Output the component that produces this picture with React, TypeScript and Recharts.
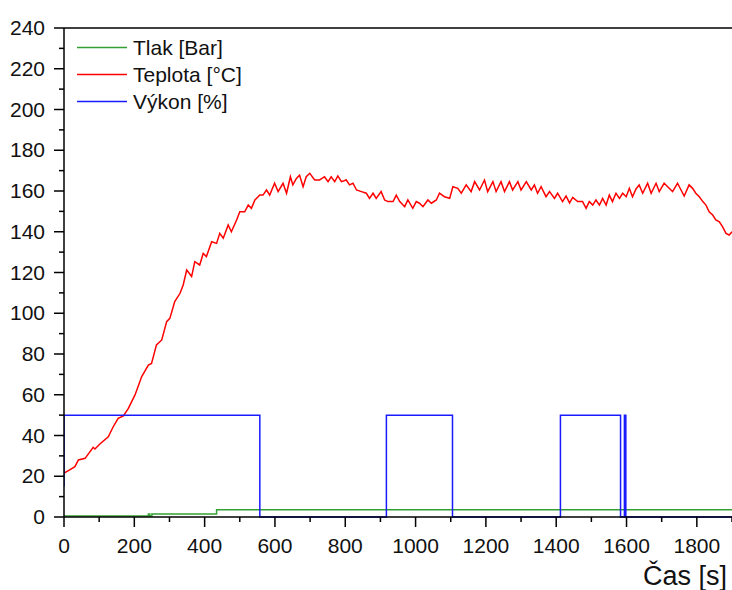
import { Legend, Line, LineChart, ReferenceLine, XAxis, YAxis } from 'recharts'

const timeTicks = [0, 100, 200, 300, 400, 500, 600, 700, 800, 900, 1000, 1100, 1200, 1300, 1400, 1500, 1600, 1700, 1800, 1900]
const valueTicks = [0, 10, 20, 30, 40, 50, 60, 70, 80, 90, 100, 110, 120, 130, 140, 150, 160, 170, 180, 190, 200, 210, 220, 230, 240]
const seriesNames = ['Tlak [Bar]', 'Teplota [°C]', 'Výkon [%]']

// Tlak [Bar]
const pressureTime = [0, 240, 244, 250, 434, 1900]
const pressureValue = [0.5, 1.5, 0.5, 1.5, 3.5, 3.5]

// Výkon [%]
const powerTime = [0, 0, 557, 917, 1105, 1412, 1583, 1594, 1598, 1900]
const powerValue = [15, 50, 0, 50, 0, 50, 0, 50, 0, 0]

// Teplota [°C]
const tempTime = [
  0, 15, 31, 41, 60, 83, 88, 102, 126, 140, 154, 169, 183, 202, 221, 240, 249, 263, 278, 292,
  301, 315, 330, 339, 349, 363, 372, 386, 396, 405, 420, 434, 443, 453, 467, 476, 491, 500, 514, 524,
  533, 543, 557, 566, 576, 585, 599, 609, 623, 633, 644, 651, 661, 670, 680, 689, 699, 713, 727, 741,
  751, 760, 770, 779, 789, 803, 812, 822, 832, 846, 860, 869, 879, 888, 902, 912, 921, 936, 945, 955,
  969, 978, 992, 1002, 1011, 1021, 1035, 1045, 1059, 1068, 1082, 1097, 1106, 1120, 1130, 1144, 1158, 1168, 1182, 1196,
  1205, 1220, 1229, 1243, 1253, 1267, 1276, 1291, 1300, 1315, 1329, 1338, 1347, 1357, 1371, 1381, 1395, 1404, 1418, 1428,
  1438, 1447, 1461, 1475, 1485, 1494, 1504, 1513, 1523, 1532, 1542, 1551, 1560, 1570, 1580, 1589, 1599, 1608, 1617, 1627,
  1636, 1646, 1660, 1670, 1684, 1693, 1707, 1717, 1731, 1745, 1755, 1764, 1778, 1788, 1797, 1807, 1817, 1826, 1835, 1845,
  1854, 1864, 1873, 1883, 1892, 1900,
]
const tempValue = [
  21.5, 23, 24.7, 28, 28.8, 34.2, 33.4, 35.8, 39.4, 44.3, 48.4, 49.6, 53.3, 59.9, 68.9, 74.6, 75.4, 84.5, 86.9, 95.9,
  97.5, 105.7, 109.8, 113.9, 121.2, 118, 125.3, 123.7, 129.4, 127.8, 135.1, 134.3, 139.2, 136.8, 143.3, 140, 145.8, 149.8, 149.8, 153.1,
  151.5, 155.6, 158, 158, 160.5, 158, 163.8, 159.7, 163.8, 158.9, 167, 163, 166.2, 167.8, 162.1, 167, 168.7, 165.4, 165.4, 167,
  164.6, 167, 164.6, 167.4, 164.6, 165.4, 163, 163.8, 160.5, 159.7, 158.9, 156.4, 158.9, 156.4, 159.7, 155.6, 154.8, 154.8, 158, 154.8,
  152.3, 155.6, 151.5, 154.8, 154, 152.3, 155.6, 154, 155.6, 158.9, 157.2, 156.4, 162.1, 161.3, 158.9, 163, 159.7, 164.6, 160.5, 165.4,
  159.7, 164.6, 159.7, 164.6, 159.7, 164.6, 160.5, 164.6, 160.5, 164.6, 160.5, 163, 158.9, 162.1, 157.2, 159.7, 156.4, 158.9, 154.8, 157.5,
  154.2, 156.9, 154.8, 154.8, 151.5, 154.8, 153.1, 155.6, 153.1, 156.4, 153.1, 158, 154.8, 158.9, 156.4, 158.9, 157.2, 161.3, 157.2, 161,
  163, 158.9, 163.8, 158.9, 163.8, 159.7, 163.8, 162.1, 159.7, 163.8, 160.5, 157.5, 163, 161.3, 158.9, 157.2, 154.8, 153.1, 149.8, 148.2,
  145.8, 144.9, 142.5, 139.2, 138.4, 140,
]

const toPoints = (t: number[], v: number[]) => t.map((time, i) => ({ time, value: v[i] }))

const pressureData = toPoints(pressureTime, pressureValue)
const powerData = toPoints(powerTime, powerValue)
const tempData = toPoints(tempTime, tempValue)

const font = '"Liberation Sans", Arial, sans-serif'
const axisColor = '#000'

const YTick = (props: any) => {
  const { x, y, payload } = props
  const major = payload.value % 20 === 0
  return (
    <g>
      <line x1={x - (major ? 10 : 5)} x2={x} y1={y} y2={y} stroke={axisColor} strokeWidth={1.5} />
      {major && (
        <text x={x - 19} y={y} dy={7} textAnchor="end" fontSize={21} fontFamily={font} fill="#111">
          {payload.value}
        </text>
      )}
    </g>
  )
}

const XTick = (props: any) => {
  const { x, y, payload } = props
  const major = payload.value % 200 === 0
  return (
    <g>
      <line x1={x} x2={x} y1={y} y2={y + (major ? 10 : 5)} stroke={axisColor} strokeWidth={1.5} />
      {major && (
        <text x={x} y={y + 36} textAnchor="middle" fontSize={21} fontFamily={font} fill="#111">
          {payload.value}
        </text>
      )}
    </g>
  )
}

const renderLegend = (props: any) => {
  const items = [...props.payload].sort(
    (a: any, b: any) => seriesNames.indexOf(a.value) - seriesNames.indexOf(b.value),
  )
  return (
    <div style={{ fontFamily: font, fontSize: 21, color: '#111' }}>
      {items.map((item: any) => (
        <div key={item.value} style={{ display: 'flex', alignItems: 'center', height: 27, lineHeight: '27px' }}>
          <svg width={50} height={27} style={{ marginRight: 6 }}>
            <line x1={0} x2={50} y1={13.5} y2={13.5} stroke={item.color} strokeWidth={1.5} />
          </svg>
          <span>{item.value}</span>
        </div>
      ))}
    </div>
  )
}

export default function App() {
  return (
    <div style={{ position: 'absolute', left: 0, top: 0, background: '#fff' }}>
      <LineChart width={732} height={590} margin={{ top: 28, right: 0, bottom: 0, left: 0 }}>
        <XAxis
          type="number"
          dataKey="time"
          domain={[0, 1900]}
          ticks={timeTicks}
          interval={0}
          allowDataOverflow
          height={73}
          tickSize={0}
          tickMargin={0}
          tick={<XTick />}
          axisLine={{ stroke: axisColor, strokeWidth: 1.5 }}
          label={{
            value: 'Čas [s]',
            position: 'insideBottomRight',
            offset: 5,
            fontSize: 27,
            fontFamily: font,
            fill: '#111',
          }}
        />
        <YAxis
          type="number"
          domain={[0, 240]}
          ticks={valueTicks}
          interval={0}
          width={64}
          tickSize={0}
          tickMargin={0}
          tick={<YTick />}
          axisLine={{ stroke: axisColor, strokeWidth: 1.5 }}
        />
        <ReferenceLine y={240} stroke={axisColor} strokeWidth={1.5} />
        <Legend
          layout="vertical"
          align="center"
          verticalAlign="middle"
          wrapperStyle={{ left: 77, top: 34, width: 220 }}
          content={renderLegend}
        />
        <Line
          data={pressureData}
          dataKey="value"
          name="Tlak [Bar]"
          type="stepAfter"
          stroke="#33a033"
          strokeWidth={1.5}
          dot={false}
          isAnimationActive={false}
        />
        <Line
          data={tempData}
          dataKey="value"
          name="Teplota [°C]"
          type="linear"
          stroke="#ff0000"
          strokeWidth={1.5}
          dot={false}
          isAnimationActive={false}
        />
        <Line
          data={powerData}
          dataKey="value"
          name="Výkon [%]"
          type="stepAfter"
          stroke="#1a1aff"
          strokeWidth={1.5}
          dot={false}
          isAnimationActive={false}
        />
      </LineChart>
    </div>
  )
}
